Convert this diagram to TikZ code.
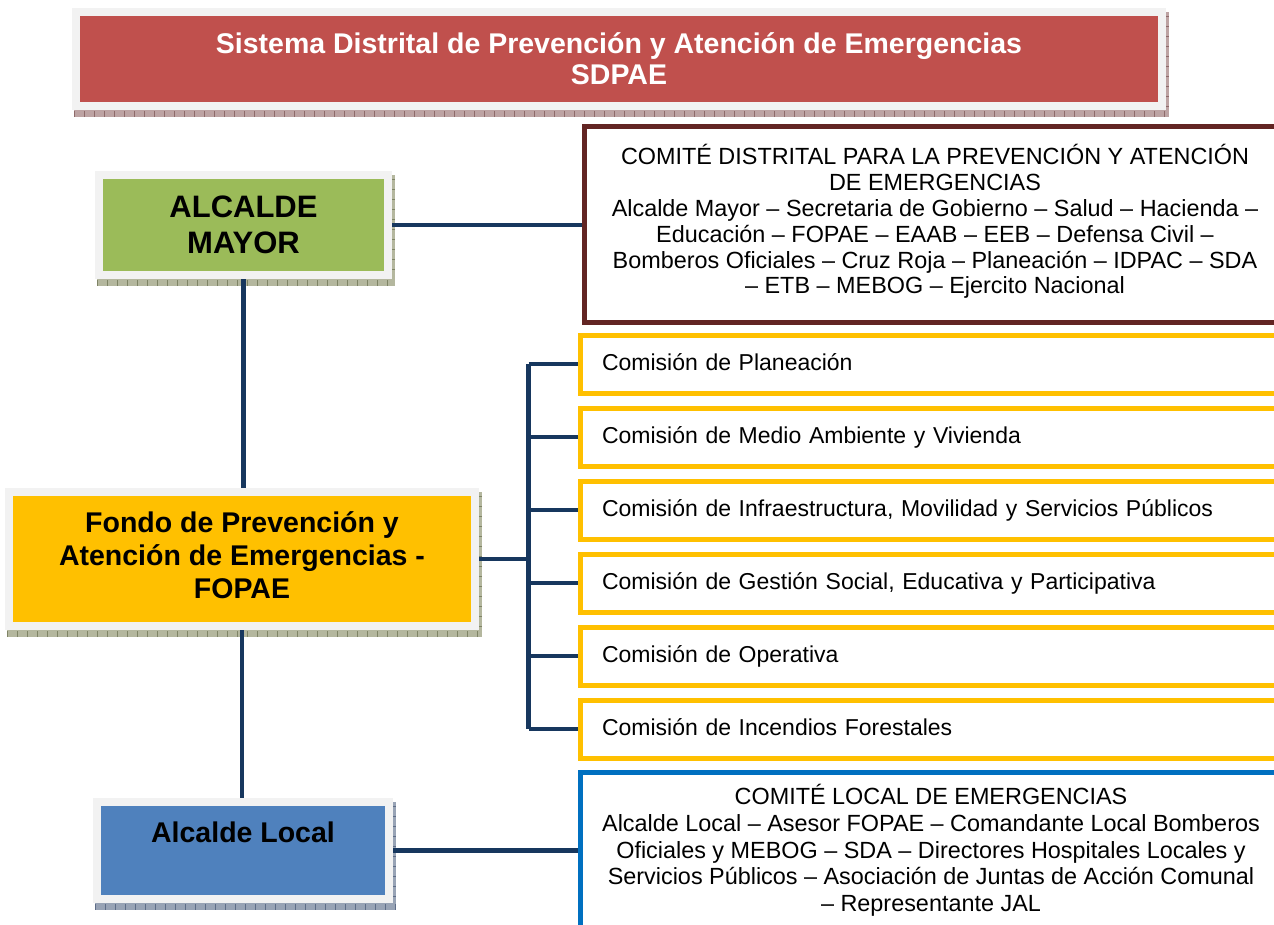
\documentclass[tikz,border=0pt]{standalone}
\usepackage{fontspec}
\setmainfont{Liberation Sans}
\usetikzlibrary{calc,backgrounds}
\definecolor{titlered}{HTML}{C0504D}
\definecolor{amgreen}{HTML}{9BBB59}
\definecolor{fyellow}{HTML}{FFC000}
\definecolor{alblue}{HTML}{4F81BD}
\definecolor{framegray}{HTML}{F2F2F2}
\definecolor{conncol}{HTML}{17375E}
\definecolor{brownb}{HTML}{632523}
\definecolor{blueb}{HTML}{0070C0}
\definecolor{shred}{HTML}{BDA3A3}
\definecolor{shredt}{HTML}{8E6A6A}
\definecolor{shgreen}{HTML}{B4B79E}
\definecolor{shgreent}{HTML}{7F8466}
\definecolor{shblue}{HTML}{98A3B5}
\definecolor{shbluet}{HTML}{5E6D88}
\newcommand\boxshadow[3]{%
  \begin{pgfonlayer}{background}
    \fill[#2] ($(#1.north west)+(2,4)$) rectangle ($(#1.south east)+(3,7)$);
    \draw[#3, line width=6pt, dash pattern=on 1pt off 9pt]
      ($(#1.south west)+(2,3.5)$) -- ($(#1.south east)+(3,3.5)$);
    \draw[#3, line width=3pt, dash pattern=on 1pt off 9pt]
      ($(#1.north east)+(1.5,8)$) -- ($(#1.south east)+(1.5,0)$);
  \end{pgfonlayer}}
\newcommand\dep[1]{\rule[-#1]{0pt}{#1}}
\begin{document}
\begin{tikzpicture}[x=1pt,y=-1pt,
  framed/.style={draw=framegray, line width=8pt, inner sep=0pt, align=center,
    font=\bfseries\fontsize{28.5}{33}\selectfont},
  comi/.style={draw=fyellow, line width=5pt, minimum height=58pt,
    text width=663pt, inner xsep=21.5pt, inner ysep=0pt, align=left,
    text height=17pt, text depth=5pt,
    font=\fontsize{23}{26}\selectfont},
  comite/.style={line width=5pt, inner sep=0pt, align=center},
  conn/.style={draw=conncol, line width=4.5pt}
]
\useasboundingbox (0,0) rectangle (1274,924);
\clip (0,0) rectangle (1274,924);

% title
\node[framed, fill=titlered, text=white, minimum width=1086pt, minimum height=94pt,
  font=\bfseries\fontsize{28.5}{31}\selectfont] (title) at (619,59)
  {Sistema Distrital de Prevención y Atención de Emergencias\\SDPAE};
\boxshadow{title}{shred}{shredt}

% left column
\node[framed, fill=amgreen, minimum width=289pt, minimum height=100pt,
  font=\bfseries\fontsize{31}{36}\selectfont] (am) at (243.5,225) {ALCALDE\\MAYOR};
\boxshadow{am}{shgreen}{shgreent}

\node[framed, fill=fyellow, minimum width=466pt, minimum height=134pt] (fopae) at (242,559)
  {Fondo de Prevención y\\Atención de Emergencias -\\FOPAE\dep{8pt}};
\boxshadow{fopae}{shgreen}{shgreent}

\node[framed, fill=alblue, minimum width=292pt, minimum height=97pt,
  font=\bfseries\fontsize{28.5}{37}\selectfont] (al) at (243,850.5) {Alcalde Local\\\mbox{}};
\boxshadow{al}{shblue}{shbluet}

% right column
\node[comite, draw=brownb, minimum width=702pt, minimum height=195.5pt,
  font=\fontsize{23.4}{25.8}\selectfont] (cd) at (935,224.25)
  {COMITÉ DISTRITAL PARA LA PREVENCIÓN Y ATENCIÓN\\
   DE EMERGENCIAS\\
   Alcalde Mayor – Secretaria de Gobierno – Salud – Hacienda –\\
   Educación – FOPAE – EAAB – EEB – Defensa Civil –\\
   Bomberos Oficiales – Cruz Roja – Planeación – IDPAC – SDA\\
   – ETB – MEBOG – Ejercito Nacional\dep{10pt}};

\node[comi] (c1) at (933.5,364) {Comisión de Planeación};
\node[comi] (c2) at (933.5,437) {Comisión de Medio Ambiente y Vivienda};
\node[comi] (c3) at (933.5,510) {Comisión de Infraestructura, Movilidad y Servicios Públicos};
\node[comi] (c4) at (933.5,583) {Comisión de Gestión Social, Educativa y Participativa};
\node[comi] (c5) at (933.5,656) {Comisión de Operativa};
\node[comi] (c6) at (933.5,729) {Comisión de Incendios Forestales};

\node[comite, draw=blueb, minimum width=701pt, minimum height=157pt,
  font=\fontsize{23.4}{26.7}\selectfont] (cl) at (931,850.5)
  {COMITÉ LOCAL DE EMERGENCIAS\\
   Alcalde Local – Asesor FOPAE – Comandante Local Bomberos\\
   Oficiales y MEBOG – SDA – Directores Hospitales Locales y\\
   Servicios Públicos – Asociación de Juntas de Acción Comunal\\
   – Representante JAL};

% connectors
\coordinate (bx) at (528.5,0);
\draw[conn] (am.south) -- (am.south |- fopae.north);
\draw[conn] (fopae.south) -- (fopae.south |- al.north);
\draw[conn] (am.east) -- (am.east -| cd.west);
\draw[conn] (al.east) -- (al.east -| cl.west);
\draw[conn] (fopae.east) -- (fopae.east -| bx);
\draw[conn] (c1.west -| bx) -- (c6.west -| bx);
\foreach \i in {1,...,6} \draw[conn] (c\i.west -| bx) -- (c\i.west);
\end{tikzpicture}
\end{document}
